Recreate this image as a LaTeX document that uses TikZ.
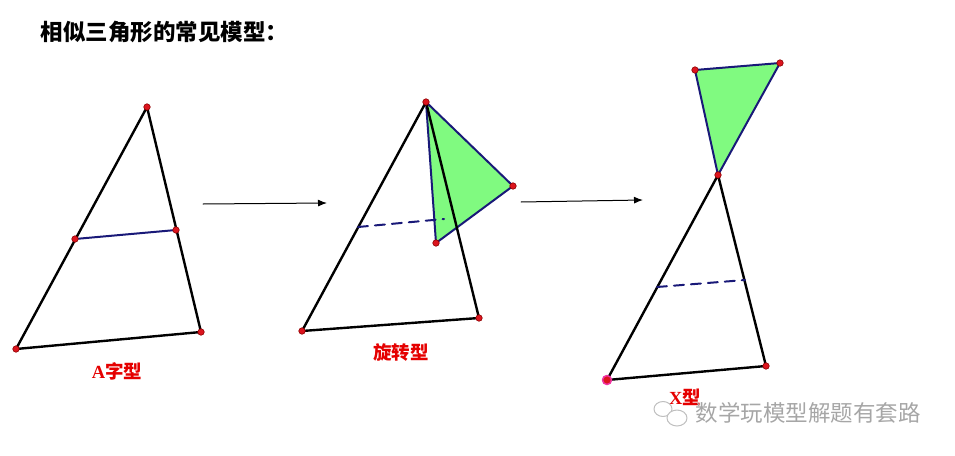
\documentclass[tikz,border=0pt]{standalone}
\usepackage{fontspec}
\setmainfont{Liberation Serif}
\newfontfamily\cjk{Noto Sans CJK SC}
\usepackage{xcolor}
\usetikzlibrary{arrows.meta}

\definecolor{patch}{RGB}{128,250,128}
\definecolor{navy}{RGB}{25,25,120}
\definecolor{pt}{RGB}{220,20,30}

\begin{document}
\begin{tikzpicture}[x=1pt,y=-1pt,line cap=round,line join=round,
  edge/.style={line width=2.4pt},
  seg/.style={line width=2pt,navy},
  part/.style={fill=patch,draw=navy,line width=2pt},
  dot/.style={circle,fill=pt,draw=red!55!black,line width=0.6pt,inner sep=0pt,minimum size=6.5pt},
  move/.style={-{Latex[length=9pt,width=7pt]},line width=1pt},
  tag/.style={text=red!90!black,font=\bfseries\fontsize{18.5}{18.5}\selectfont}]
\useasboundingbox (0,0) rectangle (955,455);

\node[anchor=west,font=\cjk\bfseries\fontsize{22.5}{22.5}\selectfont] (title) at (37,32) {相似三角形的常见模型：};

% A shape
\coordinate (a1) at (147,107);
\coordinate (a2) at (16,349);
\coordinate (a3) at (201,332);
\coordinate (a4) at (75,239);
\coordinate (a5) at (176,230);
\draw[edge] (a1) -- (a2) -- (a3) -- cycle;
\draw[seg] (a4) -- (a5);
\foreach \p in {a1,a2,a3,a4,a5}
  \node[dot] (d\p) at (\p) {};
\node[tag] (tagA) at (117,371) {A{\cjk 字型}};

\coordinate (m1) at (203,204);
\coordinate (m2) at (327,203);
\draw[move] (m1) -- (m2);

% rotated
\coordinate (b1) at (426,102);
\coordinate (b2) at (302,331);
\coordinate (b3) at (479,318);
\coordinate (b4) at (513,186);
\coordinate (b5) at (436,243);
\coordinate (b6) at (358,227);
\coordinate (b7) at (444,219);
\draw[part] (b1) -- (b4) -- (b5) -- cycle;
\draw[edge] (b1) -- (b2) -- (b3) -- cycle;
\draw[seg,dash pattern=on 10pt off 7pt] (b6) -- (b7);
\foreach \p in {b1,b2,b3,b4,b5}
  \node[dot] (d\p) at (\p) {};
\node[tag] (tagB) at (401,353) {\cjk 旋转型};

\coordinate (m3) at (521,202);
\coordinate (m4) at (643,200);
\draw[move] (m3) -- (m4);

% X shape
\coordinate (c1) at (718,175);
\coordinate (c2) at (695,70);
\coordinate (c3) at (780,63);
\coordinate (c4) at (607,380);
\coordinate (c5) at (766,366);
\coordinate (c6) at (657,287);
\coordinate (c7) at (745,280);
\draw[part] (c1) -- (c2) -- (c3) -- cycle;
\draw[edge] (c1) -- (c4) -- (c5) -- cycle;
\draw[seg,dash pattern=on 10pt off 7pt] (c6) -- (c7);
\foreach \p in {c1,c2,c3,c5}
  \node[dot] (d\p) at (\p) {};
\node[dot,draw=magenta!80,line width=1.5pt,minimum size=9pt] (dc4) at (c4) {};
\node[tag] (tagC) at (685,397) {X{\cjk 型}};

% mark
\begin{scope}[gray!50,line width=1pt]
\draw (663,409) ellipse (9pt and 7.5pt);
\draw[fill=white] (677,418) ellipse (10pt and 8pt);
\end{scope}
\node[anchor=west,text=gray!70,font=\cjk\fontsize{22.5}{22.5}\selectfont] (mark) at (692,413) {数学玩模型解题有套路};
\end{tikzpicture}
\end{document}
